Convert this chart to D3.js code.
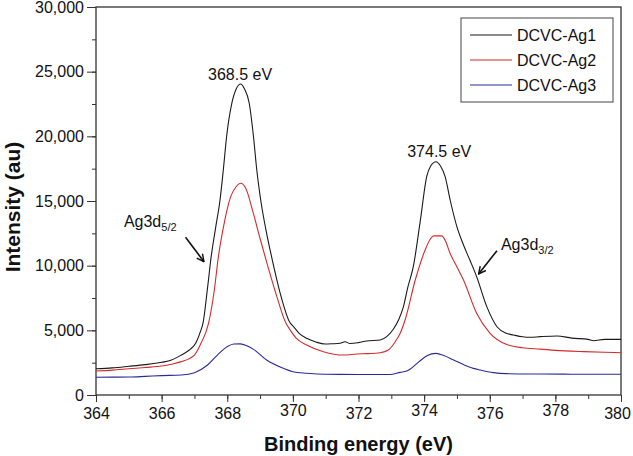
<!DOCTYPE html>
<html>
<head>
<meta charset="utf-8">
<script src="https://cdn.jsdelivr.net/npm/d3@7"></script>
<style>
  body { margin: 0; background: #fff; }
  svg { display: block; font-family: "Liberation Sans", Arial, sans-serif; }
</style>
</head>
<body>
<svg id="chart" width="633" height="456"></svg>
<script>
// ---- data ----
const seriesNames = ["DCVC-Ag1", "DCVC-Ag2", "DCVC-Ag3"];
const seriesColors = ["#1a1a1a", "#d42a2a", "#2a2a9c"];

const ag1 = [
  [364.0, 2030], [364.5, 2100], [365.0, 2220], [365.5, 2350], [366.0, 2530], [366.3, 2700],
  [366.6, 3090], [366.8, 3400], [367.05, 4050], [367.2, 5030], [367.26, 5540], [367.4, 8300],
  [367.51, 10700], [367.65, 13000], [367.78, 15080], [367.88, 17400], [367.98, 19970],
  [368.14, 22560], [368.28, 23700], [368.41, 24050], [368.52, 23700], [368.67, 22560],
  [368.8, 19970], [368.9, 17400], [369.02, 15080], [369.2, 12500], [369.35, 10700],
  [369.6, 8000], [369.91, 5600], [370.02, 5280], [370.2, 4750], [370.42, 4380], [370.7, 4100],
  [370.98, 3940], [371.2, 3960], [371.44, 4000], [371.59, 4120], [371.74, 3980], [372.0, 4050],
  [372.25, 4175], [372.66, 4250], [372.86, 4510], [373.06, 5080], [373.22, 5800], [373.37, 6830],
  [373.5, 8300], [373.67, 9920], [373.88, 13400], [374.08, 16900], [374.2, 17700], [374.36, 18040],
  [374.5, 17700], [374.64, 16880], [374.8, 15000], [375.0, 13000], [375.2, 11600], [375.4, 10400],
  [375.6, 9150], [375.91, 6830], [376.22, 5280], [376.5, 4770], [376.72, 4640], [377.0, 4500],
  [377.23, 4460], [377.54, 4510], [378.05, 4560], [378.5, 4400], [379.0, 4300], [379.16, 4200],
  [379.5, 4300], [380.0, 4300]
];

const ag2 = [
  [364.0, 1855], [364.5, 1920], [365.0, 2030], [365.5, 2130], [366.0, 2240], [366.3, 2380],
  [366.6, 2580], [367.0, 3090], [367.2, 4000], [367.43, 5540], [367.6, 8000], [367.73, 10700],
  [367.9, 13200], [368.1, 15300], [368.27, 16100], [368.41, 16370], [368.56, 16000],
  [368.8, 14000], [369.0, 12100], [369.22, 10100], [369.5, 7700], [369.79, 5540], [369.9, 5100],
  [370.1, 4400], [370.42, 3870], [370.93, 3350], [371.54, 3090], [371.95, 3170], [372.3, 3200],
  [372.66, 3270], [372.91, 3480], [373.12, 4120], [373.27, 4770], [373.42, 5800], [373.73, 8890],
  [374.03, 11210], [374.2, 12100], [374.29, 12300], [374.54, 12300], [374.65, 11900],
  [374.79, 10960], [375.0, 9900], [375.2, 8890], [375.6, 6320], [376.01, 4770], [376.52, 3900],
  [377.0, 3650], [377.54, 3550], [378.0, 3450], [378.86, 3350], [379.5, 3300], [380.0, 3270]
];

const ag3 = [
  [364.0, 1370], [364.5, 1380], [365.0, 1390], [365.5, 1440], [366.0, 1500], [366.6, 1545],
  [367.0, 1725], [367.4, 2320], [367.7, 3090], [368.0, 3740], [368.2, 3945], [368.4, 3950],
  [368.6, 3800], [368.8, 3530], [369.2, 2700], [369.71, 2060], [370.0, 1800], [370.42, 1680],
  [371.0, 1600], [372.0, 1590], [372.96, 1580], [373.27, 1750], [373.47, 1850], [373.88, 2650],
  [374.1, 3050], [374.36, 3220], [374.6, 3050], [374.9, 2700], [375.2, 2350], [375.5, 2060],
  [375.71, 1930], [376.11, 1730], [376.5, 1650], [377.54, 1620], [378.5, 1610], [380.0, 1600]
];

const xTicks = [364, 366, 368, 370, 372, 374, 376, 378, 380];
const yTicks = [0, 5000, 10000, 15000, 20000, 25000, 30000];

// peak labels: [text, x (eV), y (au)]
const peakLabels = [["368.5 eV", 368.39, 24360], ["374.5 eV", 374.46, 18430]];
// orbital labels: [main, sub, x, y]
const orbitalLabels = [["Ag3d", "5/2", 364.85, 12990], ["Ag3d", "3/2", 376.34, 11210]];
// arrows: [x1, y1, x2, y2] in data units
const arrows = [[366.73, 12190, 367.29, 10310], [376.22, 11160, 375.66, 9360]];

// ---- drawing ----
const svg = d3.select("#chart");
const x = d3.scaleLinear().domain([364, 380]).range([96, 621]);
const y = d3.scaleLinear().domain([0, 30000]).range([395, 7]);
const axisColor = "#333";

// minor ticks
svg.append("g").attr("transform", `translate(0,${y(0)})`)
  .call(d3.axisBottom(x).tickValues(d3.range(364, 381, 1)).tickSize(4).tickSizeOuter(0).tickFormat(""))
  .call(g => g.select(".domain").remove())
  .call(g => g.selectAll("line").attr("stroke", axisColor));
svg.append("g").attr("transform", `translate(${x(364)},0)`)
  .call(d3.axisLeft(y).tickValues(d3.range(0, 30001, 2500)).tickSize(4).tickSizeOuter(0).tickFormat(""))
  .call(g => g.select(".domain").remove())
  .call(g => g.selectAll("line").attr("stroke", axisColor));

// major ticks
const xAxis = svg.append("g").attr("transform", `translate(0,${y(0)})`)
  .call(d3.axisBottom(x).tickValues(xTicks).tickSize(7).tickSizeOuter(0).tickPadding(6).tickFormat(d3.format("d")));
xAxis.select(".domain").remove();
xAxis.selectAll("line").attr("stroke", axisColor);
xAxis.selectAll("text").attr("font-size", 16).attr("fill", "#111").attr("font-family", "Liberation Sans, Arial, sans-serif")
  .attr("dx", d => d === 380 ? -4 : 0)
  .attr("transform", d => (d === 370 || d === 374 || d === 378) ? "translate(0,-3)" : null);

const yAxis = svg.append("g").attr("transform", `translate(${x(364)},0)`)
  .call(d3.axisLeft(y).tickValues(yTicks).tickSize(9).tickSizeOuter(0).tickPadding(3).tickFormat(d3.format(",")));
yAxis.select(".domain").remove();
yAxis.selectAll("line").attr("stroke", axisColor);
yAxis.selectAll("text").attr("font-size", 16).attr("fill", "#111").attr("font-family", "Liberation Sans, Arial, sans-serif");

// frame
svg.append("rect")
  .attr("x", x(364)).attr("y", y(30000))
  .attr("width", x(380) - x(364)).attr("height", y(0) - y(30000))
  .attr("fill", "none").attr("stroke", axisColor).attr("stroke-width", 1.3);

// lines
const line = d3.line().x(d => x(d[0])).y(d => y(d[1])).curve(d3.curveMonotoneX);
[ag1, ag2, ag3].forEach((data, i) => {
  svg.append("path").datum(data)
    .attr("d", line)
    .attr("fill", "none")
    .attr("stroke", seriesColors[i])
    .attr("stroke-width", 1.1);
});

// axis titles
svg.append("text")
  .attr("x", (x(364) + x(380)) / 2).attr("y", 451)
  .attr("text-anchor", "middle").attr("font-size", 20).attr("font-weight", "bold").attr("fill", "#111")
  .text("Binding energy (eV)");
svg.append("text")
  .attr("transform", `translate(20,${(y(0) + y(30000)) / 2 + 6}) rotate(-90)`)
  .attr("text-anchor", "middle").attr("font-size", 21).attr("font-weight", "bold").attr("fill", "#111")
  .text("Intensity (au)");

// peak labels
peakLabels.forEach(p => {
  svg.append("text").attr("x", x(p[1])).attr("y", y(p[2]))
    .attr("text-anchor", "middle").attr("font-size", 16).attr("fill", "#111").text(p[0]);
});
orbitalLabels.forEach(p => {
  const t = svg.append("text").attr("x", x(p[2])).attr("y", y(p[3]))
    .attr("font-size", 16).attr("fill", "#111");
  t.append("tspan").text(p[0]);
  t.append("tspan").attr("font-size", 11).attr("dy", 4).text(p[1]);
});

// arrows
const defs = svg.append("defs");
defs.append("marker").attr("id", "arrowhead")
  .attr("viewBox", "0 0 10 10").attr("refX", 9).attr("refY", 5)
  .attr("markerWidth", 9).attr("markerHeight", 9).attr("markerUnits", "userSpaceOnUse")
  .attr("orient", "auto")
  .append("path").attr("d", "M1,1 L9,5 L1,9").attr("fill", "none").attr("stroke", "#111").attr("stroke-width", 1.6);
arrows.forEach(a => {
  svg.append("line")
    .attr("x1", x(a[0])).attr("y1", y(a[1])).attr("x2", x(a[2])).attr("y2", y(a[3]))
    .attr("stroke", "#111").attr("stroke-width", 1.6).attr("marker-end", "url(#arrowhead)");
});

// legend
const legend = svg.append("g");
legend.append("rect").attr("x", 461).attr("y", 18).attr("width", 152).attr("height", 84)
  .attr("fill", "#fff").attr("stroke", "#444").attr("stroke-width", 1);
seriesNames.forEach((name, i) => {
  const ly = 35 + i * 25;
  legend.append("line").attr("x1", 470).attr("x2", 512).attr("y1", ly).attr("y2", ly)
    .attr("stroke", seriesColors[i]).attr("stroke-width", 1.1);
  legend.append("text").attr("x", 517).attr("y", ly).attr("dy", "0.35em")
    .attr("font-size", 16).attr("fill", "#111").text(name);
});
</script>
</body>
</html>
